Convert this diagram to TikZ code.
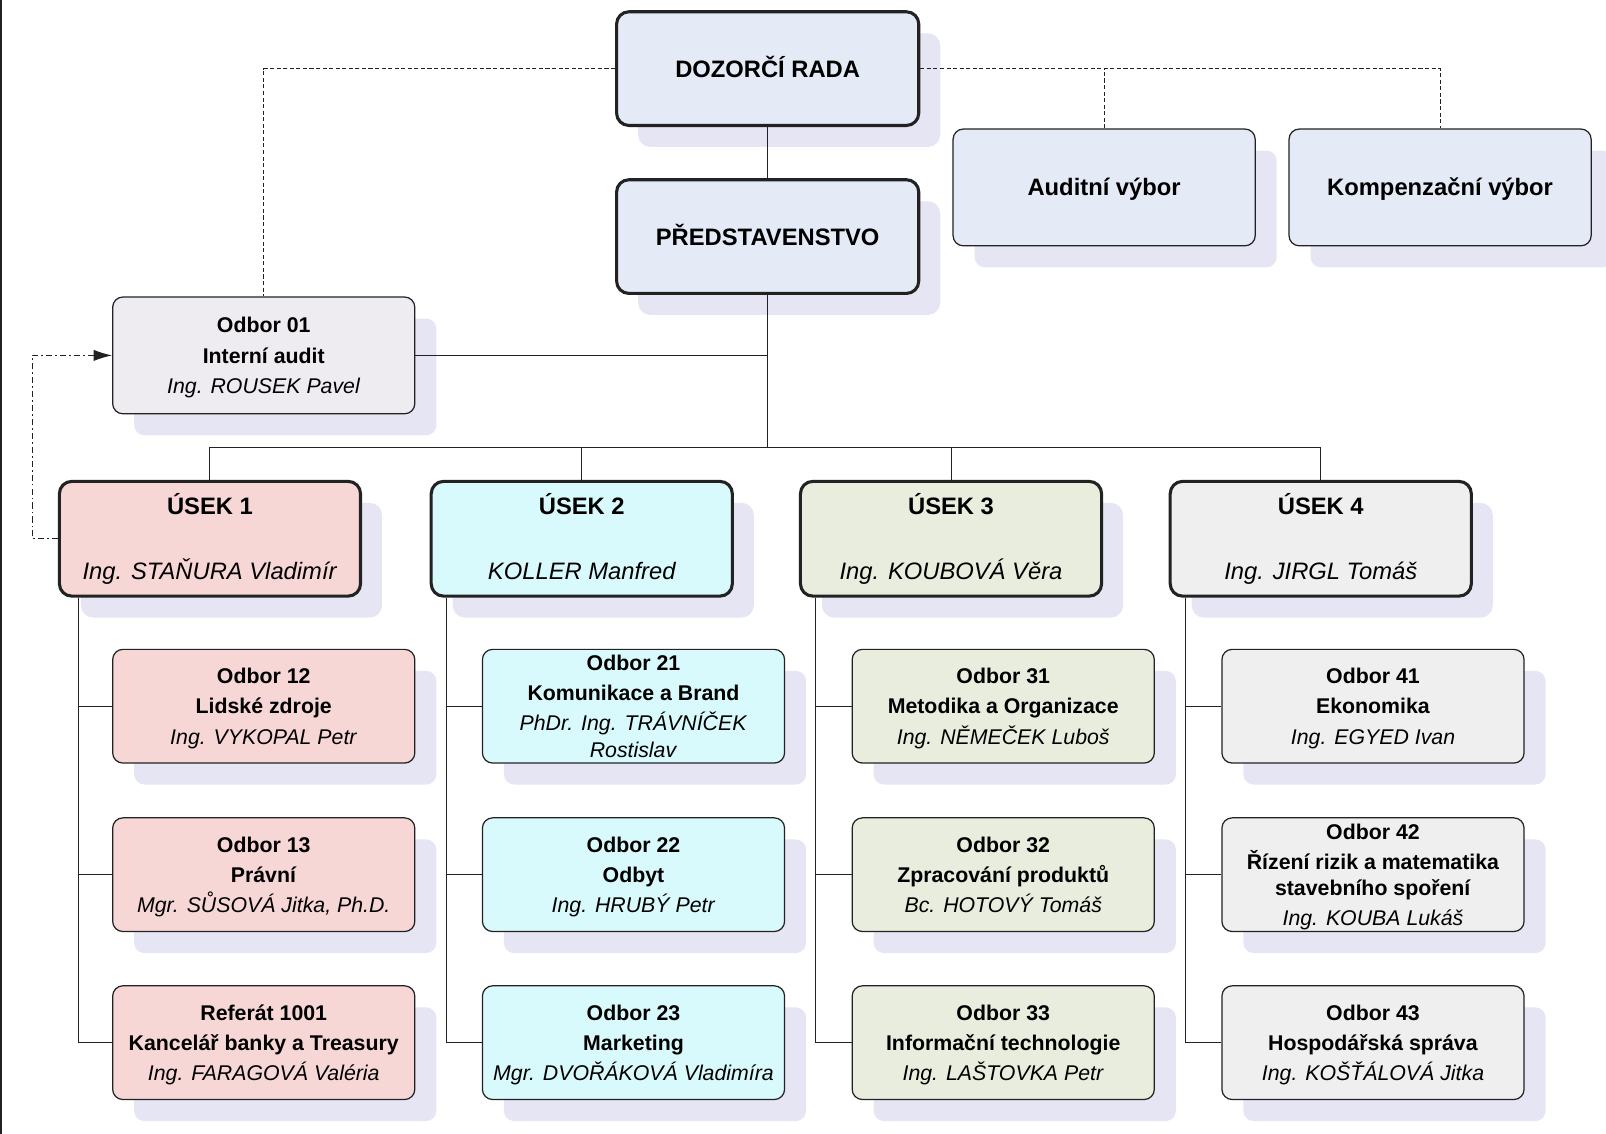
\documentclass[tikz,border=0pt]{standalone}
\usepackage{fontspec}
\setmainfont{Liberation Sans}
\usetikzlibrary{shadows,arrows.meta}

\definecolor{boardfill}{HTML}{E4EAF6}
\definecolor{auditfill}{HTML}{EEECF1}
\definecolor{pinkfill}{HTML}{F7D6D6}
\definecolor{cyanfill}{HTML}{D9FAFC}
\definecolor{greenfill}{HTML}{E9EDDE}
\definecolor{grayfill}{HTML}{EFEFEF}
\definecolor{shadowfill}{HTML}{E5E5F4}
\definecolor{linecol}{HTML}{222222}

% one department box: number, name, head
\newcommand{\odbor}[3]{\textbf{#1}\\[2pt]\textbf{#2}\\[2pt]\raisebox{0pt}[\height][0pt]{\textit{#3}}}

\begin{document}
\begin{tikzpicture}[x=0.5pt, y=-0.5pt,
    box/.style={draw=linecol, line width=0.6pt, rounded corners=5pt, align=center, inner sep=0pt,
        minimum width=147.5pt, minimum height=55.5pt,
        general shadow={fill=shadowfill, shadow xshift=10.5pt, shadow yshift=-10.5pt},
        font=\fontsize{10.4}{12.75}\selectfont},
    topbox/.style={box, line width=1.5pt, rounded corners=6pt, text height=8.3pt, text depth=0pt,
        font=\fontsize{11.6}{14}\selectfont\bfseries},
    committee/.style={box, fill=boardfill, minimum height=57pt, text height=8.3pt, text depth=0pt,
        font=\fontsize{11.6}{14}\selectfont\bfseries},
    usek/.style={box, line width=1.5pt, rounded corners=6pt, minimum width=147pt, minimum height=56pt,
        font=\fontsize{11.6}{14}\selectfont},
    link/.style={draw=linecol, line width=0.5pt},
    board/.style={draw=linecol, line width=0.4pt, dash pattern=on 2pt off 1.2pt},
    report/.style={draw=linecol, line width=0.5pt, dash pattern=on 3pt off 1.5pt on 0.8pt off 1.5pt,
        -{Latex[length=9pt,width=5.5pt]}}]

    \useasboundingbox (0,0) rectangle (1568,1107);

    % frame edge on the left
    \draw[linecol, line width=0.8pt] (1,0) -- (1,1107);

    % Board and committees
    \node[topbox, fill=boardfill] (dr) at (749.5,67) {DOZORČÍ RADA};
    \node[topbox, fill=boardfill] (pred) at (749.5,231) {PŘEDSTAVENSTVO};
    \node[committee] (audit) at (1078,183) {Auditní výbor};
    \node[committee] (komp) at (1406,183) {Kompenzační výbor};
    \node[box, fill=auditfill, minimum height=57pt] (o01) at (257.5,347)
        {\odbor{Odbor 01}{Interní audit}{Ing. ROUSEK Pavel}};

    % Divisions
    \node[usek, fill=pinkfill] (u1) at (205,526) {\textbf{ÚSEK 1}\\[18pt]\textit{Ing. STAŇURA Vladimír}};
    \node[usek, fill=cyanfill] (u2) at (568,526) {\textbf{ÚSEK 2}\\[18pt]\textit{KOLLER Manfred\vphantom{g}}};
    \node[usek, fill=greenfill] (u3) at (928.5,526) {\textbf{ÚSEK 3}\\[18pt]\textit{Ing. KOUBOVÁ Věra}};
    \node[usek, fill=grayfill] (u4) at (1289.5,526) {\textbf{ÚSEK 4}\\[18pt]\textit{Ing. JIRGL Tomáš}};

    % Departments of division 1
    \node[box, fill=pinkfill] (o12) at (257.5,689.5) {\odbor{Odbor 12}{Lidské zdroje}{Ing. VYKOPAL Petr}};
    \node[box, fill=pinkfill] (o13) at (257.5,854) {\odbor{Odbor 13}{Právní}{Mgr. SŮSOVÁ Jitka, Ph.D.}};
    \node[box, fill=pinkfill] (r1001) at (257.5,1018) {\odbor{Referát 1001}{Kancelář banky a Treasury}{Ing. FARAGOVÁ Valéria}};

    % Departments of division 2
    \node[box, fill=cyanfill] (o21) at (618.5,689.5)
        {\textbf{Odbor 21}\\[2pt]\textbf{Komunikace a Brand}\\[2pt]\textit{PhDr. Ing. TRÁVNÍČEK}\\\textit{Rostislav}};
    \node[box, fill=cyanfill] (o22) at (618.5,854) {\odbor{Odbor 22}{Odbyt}{Ing. HRUBÝ Petr}};
    \node[box, fill=cyanfill] (o23) at (618.5,1018) {\odbor{Odbor 23}{Marketing}{Mgr. DVOŘÁKOVÁ Vladimíra}};

    % Departments of division 3
    \node[box, fill=greenfill] (o31) at (979.5,689.5) {\odbor{Odbor 31}{Metodika a Organizace}{Ing. NĚMEČEK Luboš}};
    \node[box, fill=greenfill] (o32) at (979.5,854) {\odbor{Odbor 32}{Zpracování produktů}{Bc. HOTOVÝ Tomáš}};
    \node[box, fill=greenfill] (o33) at (979.5,1018) {\odbor{Odbor 33}{Informační technologie}{Ing. LAŠTOVKA Petr}};

    % Departments of division 4
    \node[box, fill=grayfill] (o41) at (1340.5,689.5) {\odbor{Odbor 41}{Ekonomika}{Ing. EGYED Ivan}};
    \node[box, fill=grayfill] (o42) at (1340.5,854)
        {\textbf{Odbor 42}\\[2pt]\textbf{Řízení rizik a matematika}\\\textbf{stavebního spoření}\\[2pt]\raisebox{0pt}[\height][0pt]{\textit{Ing. KOUBA Lukáš}}};
    \node[box, fill=grayfill] (o43) at (1340.5,1018) {\odbor{Odbor 43}{Hospodářská správa}{Ing. KOŠŤÁLOVÁ Jitka}};

    % Solid lines
    \coordinate (bus) at (749.5,437);
    \draw[link] (dr) -- (pred);
    \draw[link] (pred.south) -- (bus);
    \draw[link] (o01.east) -- (o01.east -| bus);
    \foreach \u in {u1,u2,u3,u4}
        \draw[link] (\u.north) |- (bus);
    \foreach \u/\a/\b/\c/\s in {u1/o12/o13/r1001/20, u2/o21/o22/o23/16, u3/o31/o32/o33/16, u4/o41/o42/o43/16} {
        \draw[link] (\u.south west) ++(\s,0) |- (\c.west);
        \draw[link] (\u.south west) ++(\s,0) |- (\b.west);
        \draw[link] (\u.south west) ++(\s,0) |- (\a.west);
    }

    % Dashed lines from the board
    \draw[board] (dr.west) -| (o01.north);
    \draw[board] (dr.east) -| (komp.north);
    \draw[board] (audit.north) -- (audit.north |- dr.east);

    % Audit reporting
    \draw[report] (u1.west) -- ++(-25,0) |- (o01.west);
\end{tikzpicture}
\end{document}
